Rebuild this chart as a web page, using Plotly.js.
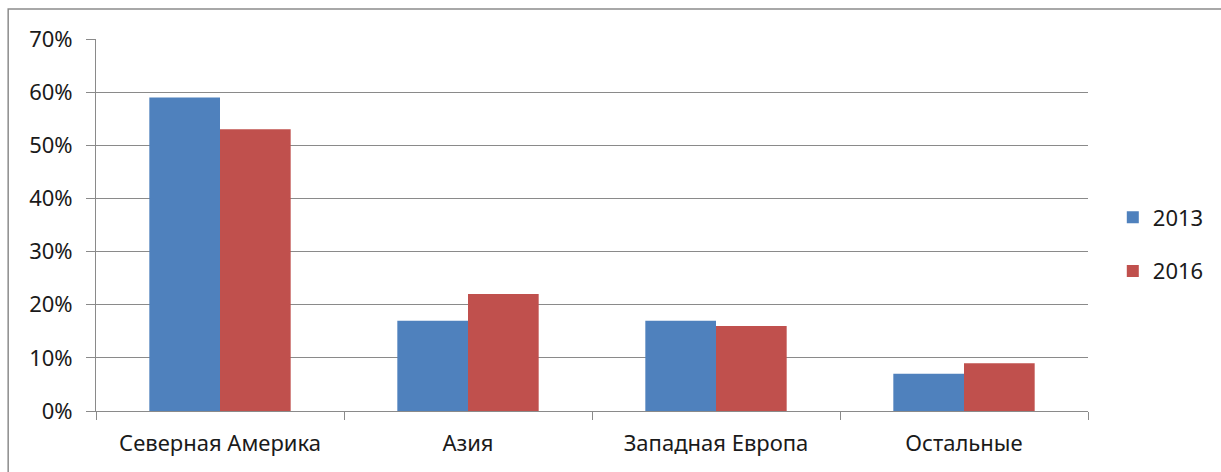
<!DOCTYPE html>
<html><head><meta charset="utf-8">
<script src="https://cdn.plot.ly/plotly-3.0.1.min.js"></script>
<style>html,body{margin:0;padding:0;background:#fff}#c{width:1221px;height:472px}</style>
</head><body><div id="c"></div>
<script>
const categories = ["Северная Америка", "Азия", "Западная Европа", "Остальные"];
const series2013 = [0.59, 0.17, 0.17, 0.07];
const series2016 = [0.53, 0.22, 0.16, 0.09];
const seriesNames = ["2013", "2016"];
const yTicks = [0, 0.1, 0.2, 0.3, 0.4, 0.5, 0.6, 0.7];

const font = {family: "Noto Sans, DejaVu Sans, sans-serif", size: 22, color: "#1a1a1a"};
const traces = [
  {type: "bar", x: categories, y: series2013, name: seriesNames[0], legendgroup: "a",
   marker: {color: "#4F81BD", line: {width: 0}}},
  {type: "bar", x: categories, y: series2016, name: seriesNames[1], legendgroup: "b",
   marker: {color: "#C0504D", line: {width: 0}}}
];
const layout = {
  width: 1221, height: 472,
  margin: {l: 96, r: 131, t: 39, b: 61, pad: 0},
  paper_bgcolor: "#fff", plot_bgcolor: "#fff",
  font: font,
  barmode: "group", bargap: 0.43, bargroupgap: 0,
  xaxis: {
    type: "category", tickson: "boundaries", ticks: "outside", ticklen: 8, tickcolor: "#8a8a8a",
    showline: true, linecolor: "#8a8a8a", linewidth: 1, showgrid: false,
    tickfont: font, ticklabelstandoff: 13, fixedrange: true
  },
  yaxis: {
    range: [0, 0.7], tickvals: yTicks, tickformat: ".0%", ticks: "outside", ticklen: 9,
    tickcolor: "#8a8a8a", showline: true, linecolor: "#8a8a8a", linewidth: 1,
    showgrid: true, gridcolor: "#8a8a8a", gridwidth: 1, zeroline: false,
    tickfont: font, ticklabelstandoff: 9, fixedrange: true
  },
  legend: {
    x: 1.025, xanchor: "left", y: 0.4476, yanchor: "middle",
    font: {family: font.family, size: 22, color: "#1a1a1a"},
    tracegroupgap: 22, itemwidth: 30, bgcolor: "rgba(0,0,0,0)"
  },
  showlegend: true,
  shapes: [{
    type: "rect", xref: "paper", yref: "paper",
    x0: (8 - 96) / 994, x1: 1.2, y0: -0.3, y1: (411 - 9) / 372,
    line: {color: "#8c8c8c", width: 1.5}, fillcolor: "rgba(0,0,0,0)", layer: "below"
  }]
};
Plotly.newPlot("c", traces, layout, {displayModeBar: false, staticPlot: true});
</script></body></html>
